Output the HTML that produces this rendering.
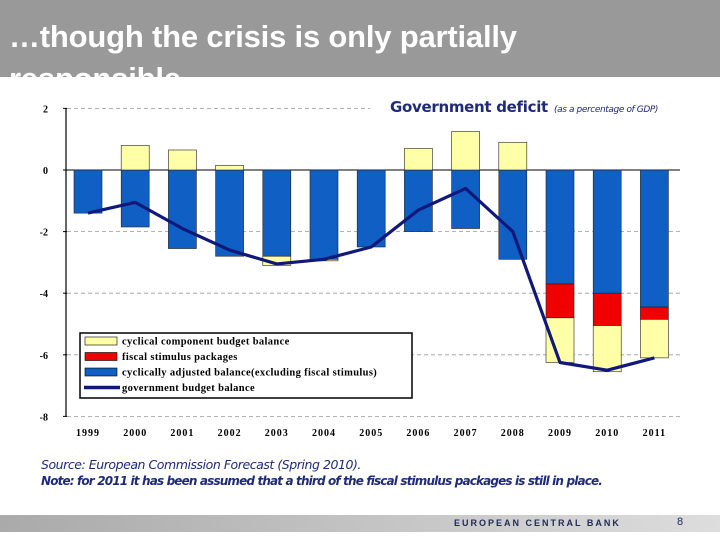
<!DOCTYPE html>
<html><head><meta charset="utf-8"><style>
body{margin:0;width:720px;height:540px;overflow:hidden;background:#fff;font-family:"Liberation Sans",sans-serif;position:relative}
#hdr{position:absolute;left:0;top:0;width:720px;height:77px;background:#999;overflow:hidden}
#ttl{position:absolute;left:9px;top:16px;color:#fff;font-size:31px;line-height:42px;margin:0;font-weight:bold;width:560px;letter-spacing:-0.2px}
.src{position:absolute;left:41px;color:#1f2a78;font-style:italic;font-size:12.5px;font-family:"DejaVu Sans","Liberation Sans",sans-serif;letter-spacing:-0.45px;white-space:nowrap}
#foot{position:absolute;left:0;top:515px;width:720px;height:17px;background:linear-gradient(to right,#aaa,#c8c8c8 60%,#ddd)}
</style></head><body>
<div id="hdr"><h1 id="ttl">…though the crisis is only partially responsible</h1></div>
<svg id="chart" width="720" height="540" style="position:absolute;left:0;top:0"></svg>
<div class="src" style="top:457px">Source: European Commission Forecast (Spring 2010).</div>
<div class="src" style="top:474px;font-weight:bold;letter-spacing:-0.85px;font-size:12px">Note: for 2011 it has been assumed that a third of the fiscal stimulus packages is still in place.</div>
<div id="foot">
<span style="position:absolute;left:454px;top:3px;font-size:9px;font-weight:bold;letter-spacing:2.0px;color:#1f2a55">EUROPEAN CENTRAL BANK</span>
<span style="position:absolute;left:677px;top:1px;font-size:11px;color:#1f2a55">8</span>
</div>
<script>
const years=["1999","2000","2001","2002","2003","2004","2005","2006","2007","2008","2009","2010","2011"];
const cyclicallyAdjusted=[-1.4,-1.85,-2.55,-2.8,-2.8,-2.9,-2.5,-2.0,-1.9,-2.9,-3.7,-4.0,-4.45];
const stimulus=[0,0,0,0,0,0,0,0,0,0,-1.1,-1.05,-0.4];
const cyclical=[0,0.8,0.65,0.15,-0.3,-0.05,0,0.7,1.25,0.9,-1.45,-1.5,-1.25];
const budgetBalance=[-1.4,-1.05,-1.9,-2.6,-3.05,-2.9,-2.5,-1.3,-0.6,-2.0,-6.25,-6.5,-6.1];
const yTicks=[2,0,-2,-4,-6,-8];
const NS="http://www.w3.org/2000/svg";
const svg=document.getElementById('chart');
const y=v=>170-v*30.8;
const x=i=>88+i*47.2;
const bw=28;
function mk(t,a,p){const e=document.createElementNS(NS,t);for(const k in a)e.setAttribute(k,a[k]);(p||svg).appendChild(e);return e;}
yTicks.forEach(v=>{
 const g=mk('line',{x1:67,x2:v===2?370:680,y1:y(v),y2:y(v),stroke:'#999','stroke-dasharray':'4,3','stroke-width':0.8});
 
 
 const tk=mk('line',{x1:63,x2:67,y1:y(v),y2:y(v),stroke:'#000'});
 
 
 const t=mk('text',{x:48,y:y(v)+4,'font-size':10,'font-weight':'bold','font-family':'Liberation Serif,serif','text-anchor':'end'});
 t.textContent=v;
 
 
});
const ax=mk('line',{x1:66,x2:66,y1:y(2),y2:y(-8),stroke:'#000','stroke-width':1.2});


const zx=mk('line',{x1:66,x2:680,y1:y(0),y2:y(0),stroke:'#000','stroke-width':1});


function bar(i,a,b,fill,name){
 const r=mk('rect',{x:x(i)-bw/2,y:y(Math.max(a,b)),width:bw,height:Math.abs(y(a)-y(b)),fill:fill,stroke:'#222','stroke-width':0.6});
 
 
}
years.forEach((yr,i)=>{
 bar(i,0,cyclicallyAdjusted[i],'#0f5fc4','bar-cyclically-adjusted-'+yr);
 let base=cyclicallyAdjusted[i];
 if(stimulus[i]!==0){bar(i,base,base+stimulus[i],'#f00000','bar-stimulus-'+yr);base+=stimulus[i];}
 if(cyclical[i]>0)bar(i,0,cyclical[i],'#ffffa8','bar-cyclical-'+yr);
 else if(cyclical[i]<0)bar(i,base,base+cyclical[i],'#ffffa8','bar-cyclical-'+yr);
 const t=mk('text',{x:x(i),y:436,'font-size':10,'font-weight':'bold','font-family':'Liberation Serif,serif','text-anchor':'middle','letter-spacing':1});
 t.textContent=yr;
 
 
});
const pl=mk('polyline',{points:budgetBalance.map((v,i)=>x(i)+','+y(v)).join(' '),fill:'none',stroke:'#10187a','stroke-width':3.2,'stroke-linejoin':'round'});


const tt=mk('text',{x:390,y:112,'font-size':15,'font-weight':'bold',fill:'#1f2a78','font-family':'DejaVu Sans,sans-serif','letter-spacing':-0.3});
tt.textContent='Government deficit';


const ts=mk('text',{x:554,y:112,'font-size':9,'font-style':'italic',fill:'#1f2a78','font-family':'DejaVu Sans,sans-serif','letter-spacing':-0.4});
ts.textContent='(as a percentage of GDP)';


const lg=mk('g',{});


mk('rect',{x:80,y:333,width:332,height:65,fill:'#fff',stroke:'#000','stroke-width':1.5},lg);
const items=[['cyclical component budget balance','#ffffa8'],['fiscal stimulus packages','#f00000'],['cyclically adjusted balance(excluding fiscal stimulus)','#0f5fc4'],['government budget balance',null]];
items.forEach((it,k)=>{
 const yy=341+k*15.5;
 const g=mk('g',{},lg);
 
 
 if(it[1])mk('rect',{x:85,y:yy-4,width:32,height:8,fill:it[1],stroke:'#000','stroke-width':0.6},g);
 else mk('line',{x1:84,x2:120,y1:yy,y2:yy,stroke:'#10187a','stroke-width':3.5},g);
 const t=mk('text',{x:122,y:yy+3.5,'font-size':10.5,'font-weight':'bold','font-family':'Liberation Serif,serif','letter-spacing':0.35},g);
 t.textContent=it[0];
});
</script>
</body></html>
